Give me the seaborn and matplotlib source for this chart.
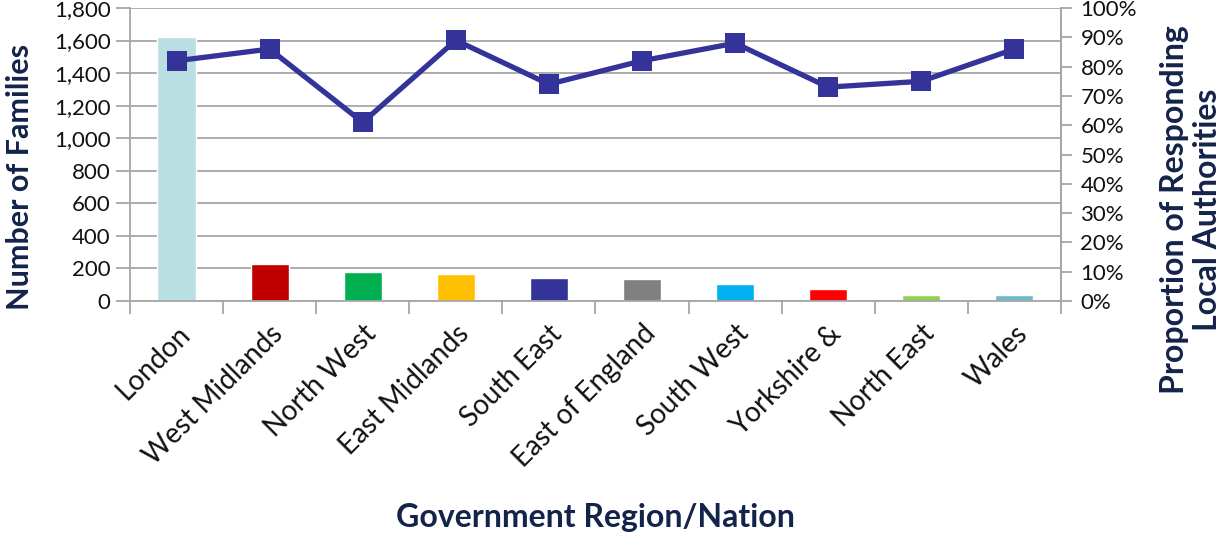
import matplotlib
matplotlib.use("Agg")
import matplotlib.pyplot as plt
import seaborn as sns
import pandas as pd
from matplotlib.ticker import FuncFormatter, MultipleLocator

regions = ["London", "West Midlands", "North West", "East Midlands", "South East",
           "East of England", "South West", "Yorkshire &", "North East", "Wales"]
families = [1625, 230, 180, 165, 143, 133, 102, 72, 35, 35]
proportion = [82, 86, 61, 89, 74, 82, 88, 73, 75, 86]
bar_colors = ["#b9dfe3", "#c00000", "#00b050", "#ffc000", "#333399",
              "#808080", "#00b0f0", "#ff0000", "#92d050", "#6cbac6"]

sns.set_theme(style="white")
plt.rcParams["font.family"] = ["Lato", "DejaVu Sans"]

navy = "#14234a"
line_col = "#333399"
grid_col = "#a6a6a6"

df = pd.DataFrame({"region": regions, "families": families, "proportion": proportion})

fig = plt.figure(figsize=(12.23, 5.36), dpi=100)
ax = fig.add_axes([0.1063, 0.4384, 0.7612, 0.5466])

sns.barplot(data=df, x="region", y="families", hue="region", palette=bar_colors,
            legend=False, width=0.41, saturation=1, ax=ax, zorder=2)

ax.set_ylim(0, 1800)
ax.yaxis.set_major_locator(MultipleLocator(200))
ax.yaxis.set_major_formatter(FuncFormatter(lambda v, p: f"{int(v):,}"))
ax.set_xlim(-0.5, len(regions) - 0.5)
ax.grid(axis="y", color=grid_col, linewidth=1.3, zorder=0)
ax.set_axisbelow(True)

ax.spines["top"].set_visible(False)
for s in ["left", "bottom", "right"]:
    ax.spines[s].set_color(grid_col)
    ax.spines[s].set_linewidth(1.3)

# category separators as x ticks
ax.set_xticks([i - 0.5 for i in range(len(regions) + 1)], minor=True)
ax.tick_params(axis="x", which="minor", length=9, width=1.3, color=grid_col, direction="out", bottom=True)
ax.tick_params(axis="x", which="major", length=0, pad=14)
ax.tick_params(axis="y", length=10, width=1.3, color=grid_col, direction="out", left=True,
               labelsize=16, labelcolor="#111111", pad=4)
ax.set_xticks(range(len(regions)))
ax.set_xticklabels(regions, rotation=45, ha="right", rotation_mode="anchor",
                   fontsize=20, color="#111111")
ax.set_xlabel("")
ax.set_ylabel("")

ax2 = ax.twinx()
sns.lineplot(data=df, x="region", y="proportion", color=line_col, linewidth=3.8,
             marker="s", markersize=15, markeredgewidth=0, ax=ax2, zorder=3)
ax2.set_ylim(0, 100)
ax2.yaxis.set_major_locator(MultipleLocator(10))
ax2.yaxis.set_major_formatter(FuncFormatter(lambda v, p: f"{int(v)}%"))
ax2.tick_params(axis="y", length=8, width=1.3, color=grid_col, direction="out", right=True,
                labelsize=16, labelcolor="#111111", pad=6)
ax2.set_ylabel("")
ax2.set_xlabel("")
ax2.grid(False)
for s in ["top", "left", "bottom"]:
    ax2.spines[s].set_visible(False)
ax2.spines["right"].set_color(grid_col)
ax2.spines["right"].set_linewidth(1.3)

fig.text(0.016, 0.67, "Number of Families", rotation=90, ha="center", va="center",
         fontsize=22, fontweight="bold", color=navy)
fig.text(0.974, 0.608, "Proportion of Responding\nLocal Authorities", rotation=90,
         ha="center", va="center", fontsize=23, fontweight="bold", color=navy,
         linespacing=1.15)
fig.text(0.487, 0.034, "Government Region/Nation", ha="center", va="center",
         fontsize=23, fontweight="bold", color=navy)

fig.savefig("out.png", dpi=100)
